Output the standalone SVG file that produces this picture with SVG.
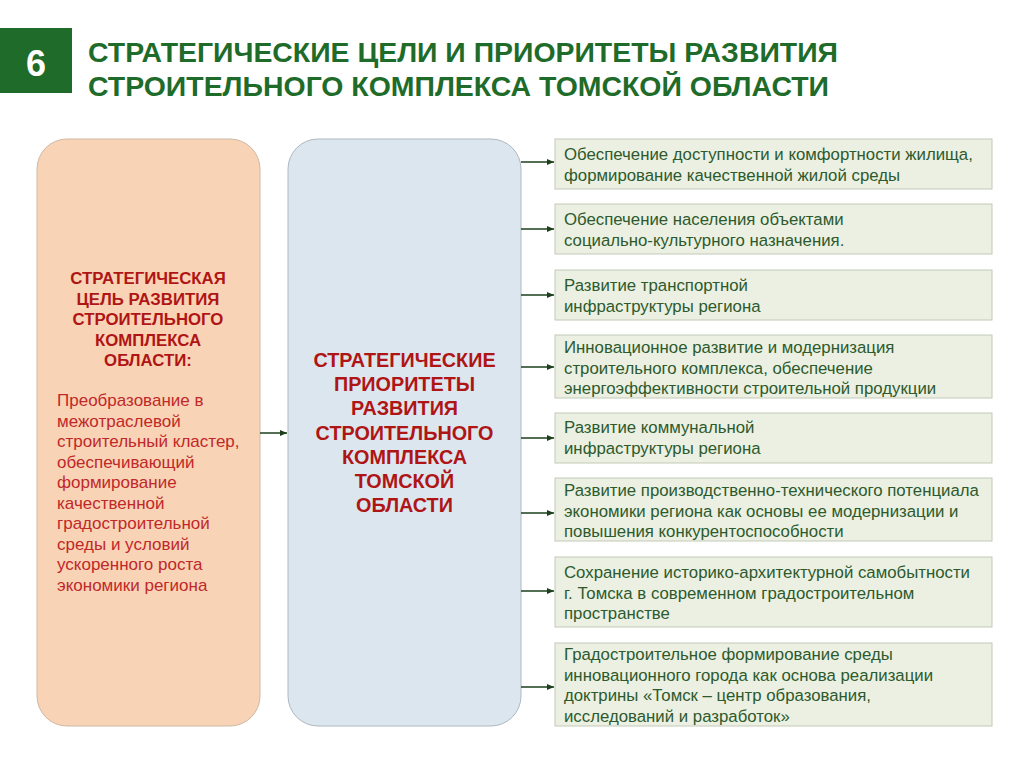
<svg xmlns="http://www.w3.org/2000/svg" width="1024" height="768" viewBox="0 0 1024 768">
<defs>
<marker id="ah" markerWidth="8" markerHeight="8" refX="7" refY="4" orient="auto" markerUnits="userSpaceOnUse">
<path d="M0,1 L7,4 L0,7 Z" fill="#1c3f1c"/>
</marker>
<style>
.title{font-family:"Liberation Sans",Arial,sans-serif;font-weight:bold;font-size:27px;fill:#1e6b2a}
.redb{font-family:"Liberation Sans",Arial,sans-serif;font-weight:bold;fill:#b01515;text-anchor:middle}
.red{font-family:"Liberation Sans",Arial,sans-serif;font-size:17px;fill:#c0282a}
.gt{font-family:"Liberation Sans",Arial,sans-serif;font-size:16.8px;fill:#2d5a2d}
.gbox{fill:#ebf0e2;stroke:#c2c9b6;stroke-width:1}
.conn{stroke:#1c3f1c;stroke-width:1.5;fill:none;marker-end:url(#ah)}
</style>
</defs>
<rect width="1024" height="768" fill="#ffffff"/>
<g id="header">
<rect x="0" y="28" width="72" height="65" fill="#1e6b2a"/>
<text x="36" y="76" text-anchor="middle" font-family="Liberation Sans, Arial, sans-serif" font-weight="bold" font-size="36" fill="#ffffff">6</text>
<text class="title" x="88" y="62" textLength="750" lengthAdjust="spacingAndGlyphs">СТРАТЕГИЧЕСКИЕ ЦЕЛИ И ПРИОРИТЕТЫ РАЗВИТИЯ</text>
<text class="title" x="88" y="96" textLength="741" lengthAdjust="spacingAndGlyphs">СТРОИТЕЛЬНОГО КОМПЛЕКСА ТОМСКОЙ ОБЛАСТИ</text>
</g>
<g id="goal">
<rect x="37" y="139" width="223" height="587" rx="30" fill="#f9d3b5" stroke="#cdb9a6" stroke-width="1"/>
<text class="redb" font-size="16.8"><tspan x="148" y="284">СТРАТЕГИЧЕСКАЯ</tspan><tspan x="148" y="304.5">ЦЕЛЬ РАЗВИТИЯ</tspan><tspan x="148" y="325">СТРОИТЕЛЬНОГО</tspan><tspan x="148" y="345.5">КОМПЛЕКСА</tspan><tspan x="148" y="366">ОБЛАСТИ:</tspan></text>
<text class="red"><tspan x="57" y="406">Преобразование в</tspan><tspan x="57" y="426.5">межотраслевой</tspan><tspan x="57" y="447">строительный кластер,</tspan><tspan x="57" y="467.5">обеспечивающий</tspan><tspan x="57" y="488">формирование</tspan><tspan x="57" y="508.5">качественной</tspan><tspan x="57" y="529">градостроительной</tspan><tspan x="57" y="549.5">среды и условий</tspan><tspan x="57" y="570">ускоренного роста</tspan><tspan x="57" y="590.5">экономики региона</tspan></text>
</g>
<g id="priorities">
<rect x="288" y="139" width="233" height="587" rx="30" fill="#dce6ee" stroke="#aeb8c0" stroke-width="1"/>
<text class="redb" font-size="19.8"><tspan x="404.5" y="367">СТРАТЕГИЧЕСКИЕ</tspan><tspan x="404.5" y="391">ПРИОРИТЕТЫ</tspan><tspan x="404.5" y="415">РАЗВИТИЯ</tspan><tspan x="404.5" y="439.5">СТРОИТЕЛЬНОГО</tspan><tspan x="404.5" y="463.5">КОМПЛЕКСА</tspan><tspan x="404.5" y="488">ТОМСКОЙ</tspan><tspan x="404.5" y="512">ОБЛАСТИ</tspan></text>
</g>
<g id="p1"><rect class="gbox" x="555" y="139" width="437" height="50"/><text class="gt"><tspan x="564" y="160">Обеспечение доступности и комфортности жилища,</tspan><tspan x="564" y="181">формирование качественной жилой среды</tspan></text></g>
<g id="p2"><rect class="gbox" x="555" y="204" width="437" height="50"/><text class="gt"><tspan x="564" y="225">Обеспечение населения объектами</tspan><tspan x="564" y="246">социально-культурного назначения.</tspan></text></g>
<g id="p3"><rect class="gbox" x="555" y="270" width="437" height="50"/><text class="gt"><tspan x="564" y="291">Развитие транспортной</tspan><tspan x="564" y="312">инфраструктуры региона</tspan></text></g>
<g id="p4"><rect class="gbox" x="555" y="335" width="437" height="63"/><text class="gt"><tspan x="564" y="353">Инновационное развитие и модернизация</tspan><tspan x="564" y="373.5">строительного комплекса, обеспечение</tspan><tspan x="564" y="394">энергоэффективности строительной продукции</tspan></text></g>
<g id="p5"><rect class="gbox" x="555" y="413" width="437" height="50"/><text class="gt"><tspan x="564" y="433">Развитие коммунальной</tspan><tspan x="564" y="454">инфраструктуры региона</tspan></text></g>
<g id="p6"><rect class="gbox" x="555" y="478" width="437" height="63"/><text class="gt"><tspan x="564" y="496">Развитие производственно-технического потенциала</tspan><tspan x="564" y="516.5">экономики региона как основы ее модернизации и</tspan><tspan x="564" y="537">повышения конкурентоспособности</tspan></text></g>
<g id="p7"><rect class="gbox" x="555" y="557" width="437" height="70"/><text class="gt"><tspan x="564" y="578">Сохранение историко-архитектурной самобытности</tspan><tspan x="564" y="598.5">г. Томска в современном градостроительном</tspan><tspan x="564" y="619">пространстве</tspan></text></g>
<g id="p8"><rect class="gbox" x="555" y="643" width="437" height="83"/><text class="gt"><tspan x="564" y="660">Градостроительное формирование среды</tspan><tspan x="564" y="680.5">инновационного города как основа реализации</tspan><tspan x="564" y="701">доктрины «Томск – центр  образования,</tspan><tspan x="564" y="721.5">исследований и разработок»</tspan></text></g>
<g id="connectors">
<line class="conn" x1="260" y1="433" x2="287" y2="433"/>
<line class="conn" x1="521" y1="162" x2="554" y2="162"/>
<line class="conn" x1="521" y1="229" x2="554" y2="229"/>
<line class="conn" x1="521" y1="295" x2="554" y2="295"/>
<line class="conn" x1="521" y1="367" x2="554" y2="367"/>
<line class="conn" x1="521" y1="438" x2="554" y2="438"/>
<line class="conn" x1="521" y1="513" x2="554" y2="513"/>
<line class="conn" x1="521" y1="591" x2="554" y2="591"/>
<line class="conn" x1="521" y1="687" x2="554" y2="687"/>
</g>
</svg>
